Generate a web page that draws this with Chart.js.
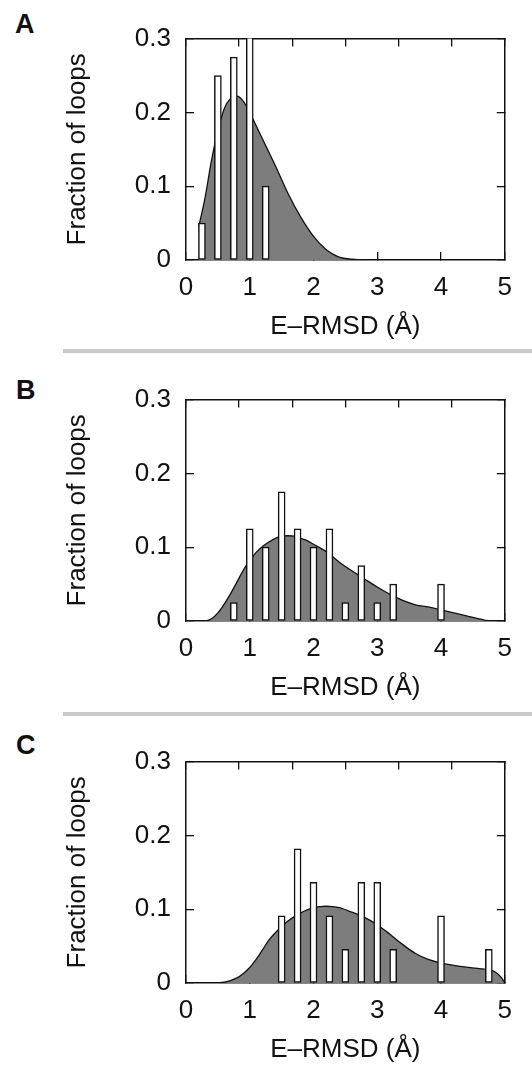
<!DOCTYPE html>
<html>
<head>
<meta charset="utf-8">
<script src="https://cdn.jsdelivr.net/npm/chart.js@4.4.0/dist/chart.umd.min.js"></script>
<style>
  body { margin: 0; background: #fff; width: 532px; height: 1066px; overflow: hidden; position: relative;
         font-family: "Liberation Sans", Arial, sans-serif; }
  .panel { position: absolute; left: 0; }
  .tag { position: absolute; font-weight: bold; font-size: 27px; line-height: 27px; color: #111; }
  .sep { position: absolute; left: 63px; width: 469px; height: 4px; background: #c9c9c9; }
</style>
</head>
<body>
<div class="tag" style="left:15px;top:11px">A</div>
<div class="tag" style="left:16px;top:377px">B</div>
<div class="tag" style="left:16px;top:732px">C</div>
<div class="sep" style="top:349px"></div>
<div class="sep" style="top:712px"></div>
<canvas id="chartA" class="panel" width="532" height="350" style="top:0px"></canvas>
<canvas id="chartB" class="panel" width="532" height="350" style="top:361px"></canvas>
<canvas id="chartC" class="panel" width="532" height="343" style="top:723px"></canvas>
<script>
// ---- Panel A: histogram (bin centres / fractions) and density curve
const aBarX = [0.25, 0.5, 0.75, 1.0, 1.25];
const aBarY = [0.05, 0.25, 0.275, 0.325, 0.1];
const aCurveX = [0.2, 0.3, 0.4, 0.5, 0.6, 0.7, 0.8, 0.9, 1.0, 1.1, 1.25, 1.4, 1.6, 1.8, 2.0, 2.2, 2.4, 2.6, 2.8, 3.0, 5.0];
const aCurveY = [0.045, 0.085, 0.135, 0.175, 0.205, 0.219, 0.222, 0.215, 0.200, 0.182, 0.155, 0.128, 0.090, 0.058, 0.032, 0.014, 0.004, 0.001, 0, 0, 0];

// ---- Panel B
const bBarX = [0.75, 1.0, 1.25, 1.5, 1.75, 2.0, 2.25, 2.5, 2.75, 3.0, 3.25, 4.0];
const bBarY = [0.025, 0.125, 0.1, 0.175, 0.125, 0.1, 0.125, 0.025, 0.075, 0.025, 0.05, 0.05];
const bCurveX = [0, 0.3, 0.4, 0.5, 0.6, 0.7, 0.8, 0.9, 1.0, 1.1, 1.2, 1.3, 1.4, 1.5, 1.6, 1.7, 1.8, 1.9, 2.0,
                 2.2, 2.4, 2.6, 2.8, 3.0, 3.2, 3.4, 3.6, 3.8, 4.0, 4.2, 4.4, 4.6, 4.8, 5.0];
const bCurveY = [0, 0, 0.003, 0.011, 0.023, 0.037, 0.053, 0.069, 0.082, 0.093, 0.101, 0.107, 0.112, 0.115, 0.1155, 0.115, 0.112, 0.109, 0.104,
                 0.094, 0.080, 0.068, 0.057, 0.046, 0.036, 0.028, 0.022, 0.019, 0.015, 0.011, 0.007, 0.003, 0, 0];

// ---- Panel C
const cBarX = [1.5, 1.75, 2.0, 2.25, 2.5, 2.75, 3.0, 3.25, 4.0, 4.75];
const cBarY = [0.0909, 0.1818, 0.1364, 0.0909, 0.0455, 0.1364, 0.1364, 0.0455, 0.0909, 0.0455];
const cCurveX = [0, 0.4, 0.6, 0.8, 0.9, 1.0, 1.1, 1.2, 1.3, 1.4, 1.5, 1.6, 1.7, 1.8, 1.9, 2.0, 2.1, 2.2, 2.3, 2.4,
                 2.6, 2.8, 3.0, 3.2, 3.4, 3.6, 3.8, 4.0, 4.2, 4.4, 4.6, 4.75, 4.85, 4.95, 5.0];
const cCurveY = [0, 0, 0.001, 0.007, 0.013, 0.021, 0.032, 0.045, 0.058, 0.068, 0.077, 0.084, 0.090, 0.095, 0.099, 0.102, 0.1035, 0.104, 0.1035, 0.102,
                 0.096, 0.089, 0.079, 0.066, 0.052, 0.040, 0.032, 0.027, 0.024, 0.0215, 0.0195, 0.018, 0.015, 0.007, 0];

const xTitle = 'E\u2013RMSD (\u00c5)';
const yTitle = 'Fraction of loops';

const FONT = '"Liberation Sans", Arial, sans-serif';
const INK = '#111';

// chart area in canvas coordinates: left 186, right 510, top 21, bottom 260
function buildPanel(id, barX, barY, curveX, curveY) {
  const canvas = document.getElementById(id);
  const H = canvas.height;
  const bars = barX.map((x, i) => ({ x: x, y: barY[i] }));
  const curve = curveX.map((x, i) => ({ x: x, y: curveY[i] }));

  // mirrored axes on top/right: only inward tick marks and the frame
  const hiddenAxis = (pos, min, max, step) => ({
    type: 'linear', position: pos, min: min, max: max, z: 1,
    ticks: { display: false, stepSize: step },
    grid: { drawOnChartArea: false, tickLength: -8, color: INK, lineWidth: 1.3 },
    border: { color: INK, width: 1.5 },
    afterFit: s => { if (pos === 'top') s.height = 0; else s.width = 0; }
  });

  new Chart(canvas, {
    type: 'bar',
    data: {
      datasets: [
        {
          type: 'bar', data: bars, order: 0,
          backgroundColor: '#ffffff', borderColor: INK, borderWidth: 1.5,
          borderSkipped: false, barThickness: 7, clip: 0
        },
        {
          type: 'line', data: curve, order: 1,
          borderColor: INK, borderWidth: 1.3, backgroundColor: '#7d7d7d',
          fill: 'origin', pointRadius: 0, cubicInterpolationMode: 'monotone'
        }
      ]
    },
    options: {
      responsive: false,
      animation: false,
      layout: { padding: { top: 21, right: 22, left: 0, bottom: 0 } },
      plugins: { legend: { display: false }, tooltip: { enabled: false } },
      scales: {
        x: {
          type: 'linear', position: 'bottom', min: 0, max: 5, offset: false, z: 1,
          ticks: { stepSize: 1, padding: 20, color: INK, font: { family: FONT, size: 26 }, maxRotation: 0 },
          grid: { drawOnChartArea: false, tickLength: -8, color: INK, lineWidth: 1.3, offset: false },
          border: { color: INK, width: 1.5 },
          title: { display: true, text: xTitle, color: INK, font: { family: FONT, size: 26 },
                   padding: { top: 0, bottom: Math.max(0, H - 327 - 15.6) } },
          afterFit: s => { s.height = H - 260; }
        },
        x2: hiddenAxis('top', 0, 5, 1),
        y: {
          type: 'linear', position: 'left', min: 0, max: 0.3, z: 1,
          ticks: { stepSize: 0.1, padding: 23, color: INK, font: { family: FONT, size: 26 },
                   callback: v => String(+v.toFixed(1)) },
          grid: { drawOnChartArea: false, tickLength: -8, color: INK, lineWidth: 1.3 },
          border: { color: INK, width: 1.5 },
          title: { display: true, text: yTitle, color: INK, font: { family: FONT, size: 26 },
                   padding: { top: 62, bottom: 0 } },
          afterFit: s => { s.width = 186; }
        },
        y2: hiddenAxis('right', 0, 0.3, 0.1)
      }
    }
  });
}

buildPanel('chartA', aBarX, aBarY, aCurveX, aCurveY);
buildPanel('chartB', bBarX, bBarY, bCurveX, bCurveY);
buildPanel('chartC', cBarX, cBarY, cCurveX, cCurveY);
</script>
</body>
</html>
